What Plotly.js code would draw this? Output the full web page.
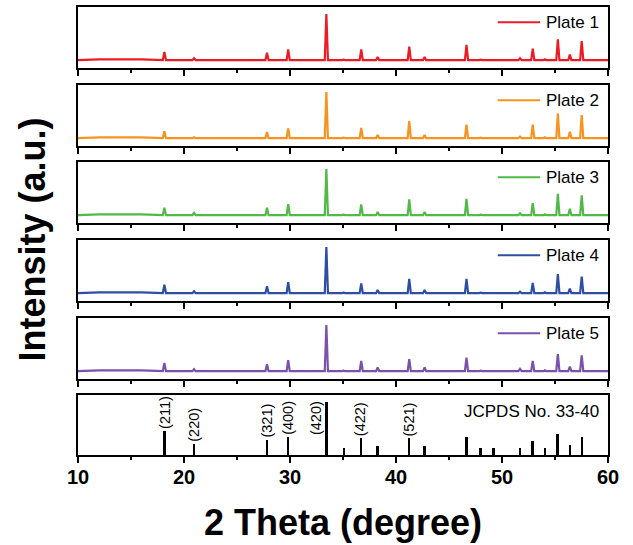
<!DOCTYPE html>
<html>
<head>
<meta charset="utf-8">
<script src="https://cdn.plot.ly/plotly-3.0.1.min.js"></script>
<style>html,body{margin:0;padding:0;background:#fff;}#chart{width:633px;height:545px;}</style>
</head>
<body>
<div id="chart"></div>
<script>
// ---- data ----
const peakPos = [18.15, 20.95, 27.83, 29.83, 33.43, 35.05, 36.72, 38.27, 41.25, 42.7, 46.65, 48.0, 49.2, 51.7, 52.9, 54.05, 55.27, 56.4, 57.52];
const plate1 = [18, 4, 16, 23, 100, 1, 23, 7, 29, 7, 33, 1, 1, 4, 25, 2, 45, 12, 41];
const plate2 = [15, 2, 13, 21, 100, 1, 22, 7, 37, 7, 29, 1, 1, 3, 29, 2, 53, 14, 50];
const plate3 = [16, 5, 16, 24, 100, 1, 23, 7, 34, 7, 35, 1, 1, 4, 26, 2, 46, 14, 43];
const plate4 = [18, 4, 15, 24, 100, 1, 21, 7, 31, 7, 31, 1, 1, 3, 22, 2, 41, 10, 36];
const plate5 = [18, 4, 15, 24, 100, 1, 22, 8, 26, 8, 29, 1, 1, 5, 22, 2, 37, 10, 34];
const bgX = [10, 12, 16, 17.5];
const bgY = [0, 1.5, 1.5, 0];
const plateNames = ['Plate 1', 'Plate 2', 'Plate 3', 'Plate 4', 'Plate 5'];

const refPos = [18.15, 20.94, 27.83, 29.81, 33.43, 35.07, 36.67, 38.24, 41.23, 42.68, 46.64, 47.96, 49.21, 51.67, 52.87, 54.03, 55.23, 56.39, 57.52];
const refInt = [45, 21, 29, 34, 100, 12.5, 31, 17.5, 31, 17.5, 33, 12.5, 12.5, 14, 26, 12.5, 39, 19, 34];
const refHkl = ['(211)', '(220)', '(321)', '(400)', '(420)', '', '(422)', '', '(521)', '', '', '', '', '', '', '', '', '', ''];
const refName = 'JCPDS No. 33-40';
const xTicks = [10, 20, 30, 40, 50, 60];

// ---- styling ----
const colors = ['#ec1c24', '#f7931e', '#52b848', '#2d4fa3', '#7b52ab'];
const FONT = 'Arial, "Liberation Sans", sans-serif';
const domains = [[0.8638, 1.0], [0.6897, 0.8259], [0.5179, 0.6540], [0.3438, 0.4799], [0.1696, 0.3058], [0, 0.1339]];
const halfW = 0.15;

function profile(intens) {
  const x = bgX.slice(), y = bgY.slice();
  peakPos.forEach((p, i) => {
    x.push(p - halfW, p, p + halfW);
    y.push(0, intens[i], 0);
  });
  x.push(60); y.push(0);
  return {x, y};
}

const plates = [plate1, plate2, plate3, plate4, plate5];
const traces = plates.map((d, i) => {
  const pr = profile(d);
  return {
    type: 'scatter', mode: 'lines', x: pr.x, y: pr.y, name: plateNames[i],
    xaxis: 'x' + (i === 0 ? '' : i + 1), yaxis: 'y' + (i === 0 ? '' : i + 1),
    line: {color: colors[i], width: 2.2}, showlegend: false, hoverinfo: 'skip'
  };
});
traces.push({
  type: 'bar', x: refPos, y: refInt, width: 0.22, name: refName,
  xaxis: 'x6', yaxis: 'y6', marker: {color: '#000', line: {width: 0}},
  showlegend: false, hoverinfo: 'skip'
});

const layout = {
  width: 633, height: 545,
  margin: {l: 78, r: 25, t: 7, b: 90},
  paper_bgcolor: '#fff', plot_bgcolor: '#fff',
  showlegend: false, bargap: 0,
  font: {family: FONT, color: '#000'},
  shapes: [], annotations: []
};

for (let i = 0; i < 6; i++) {
  const s = i === 0 ? '' : String(i + 1);
  layout['xaxis' + s] = {
    domain: [0, 1], anchor: 'y' + s, range: [10, 60],
    showline: true, linewidth: 2, linecolor: '#000', mirror: true,
    ticks: 'outside', ticklen: 6, tickwidth: 2, tickcolor: '#000',
    tickmode: 'array', tickvals: xTicks,
    minor: {dtick: 5, tick0: 10, ticks: 'outside', ticklen: 3, tickwidth: 2, tickcolor: '#000', showgrid: false},
    showgrid: false, zeroline: false,
    showticklabels: i === 5, ticklabelstandoff: -3,
    tickfont: {family: FONT, size: 20, weight: 'bold', color: '#000'},
    fixedrange: true
  };
  layout['yaxis' + s] = {
    domain: domains[i], anchor: 'x' + s,
    range: i === 5 ? [0, 112.5] : [-17, 115],
    showline: true, linewidth: 2, linecolor: '#000', mirror: true,
    ticks: '', showticklabels: false, showgrid: false, zeroline: false,
    fixedrange: true
  };
  if (i < 5) {
    layout.shapes.push({
      type: 'line', xref: 'x' + s + ' domain', yref: 'y' + s + ' domain',
      x0: 0.792, x1: 0.872, y0: 0.75, y1: 0.75,
      line: {color: colors[i], width: 2}
    });
    layout.annotations.push({
      xref: 'x' + s + ' domain', yref: 'y' + s + ' domain',
      x: 0.879, y: 0.75, xanchor: 'left', yanchor: 'middle',
      text: plateNames[i], showarrow: false,
      font: {family: FONT, size: 17, color: '#000'}
    });
  }
}

// reference pattern labels
refHkl.forEach((lab, i) => {
  if (!lab) return;
  if (refInt[i] >= 100) {
    layout.annotations.push({
      xref: 'x6', yref: 'y6', x: refPos[i], y: 70, xanchor: 'right', yanchor: 'middle',
      xshift: -1, textangle: -90, text: lab, showarrow: false,
      font: {family: FONT, size: 14.5, color: '#000'}
    });
  } else {
    layout.annotations.push({
      xref: 'x6', yref: 'y6', x: refPos[i], y: refInt[i], xanchor: 'center', yanchor: 'bottom',
      textangle: -90, text: lab, showarrow: false,
      font: {family: FONT, size: 14.5, color: '#000'}
    });
  }
});
layout.annotations.push({
  xref: 'x6 domain', yref: 'y6 domain', x: 0.987, y: 0.733, xanchor: 'right', yanchor: 'middle',
  text: refName, showarrow: false, font: {family: FONT, size: 17, color: '#000'}
});

// axis titles
layout.annotations.push({
  xref: 'paper', yref: 'paper', x: 0.5, y: -0.1496, xanchor: 'center', yanchor: 'middle',
  text: '2 Theta (degree)', showarrow: false,
  font: {family: FONT, size: 36, weight: 'bold', color: '#000'}
});
layout.annotations.push({
  xref: 'paper', yref: 'paper', x: -0.0858, y: 0.48, xanchor: 'center', yanchor: 'middle',
  textangle: -90, text: 'Intensity (a.u.)', showarrow: false,
  font: {family: FONT, size: 36, weight: 'bold', color: '#000'}
});

Plotly.newPlot('chart', traces, layout, {displayModeBar: false, staticPlot: true});
</script>
</body>
</html>
